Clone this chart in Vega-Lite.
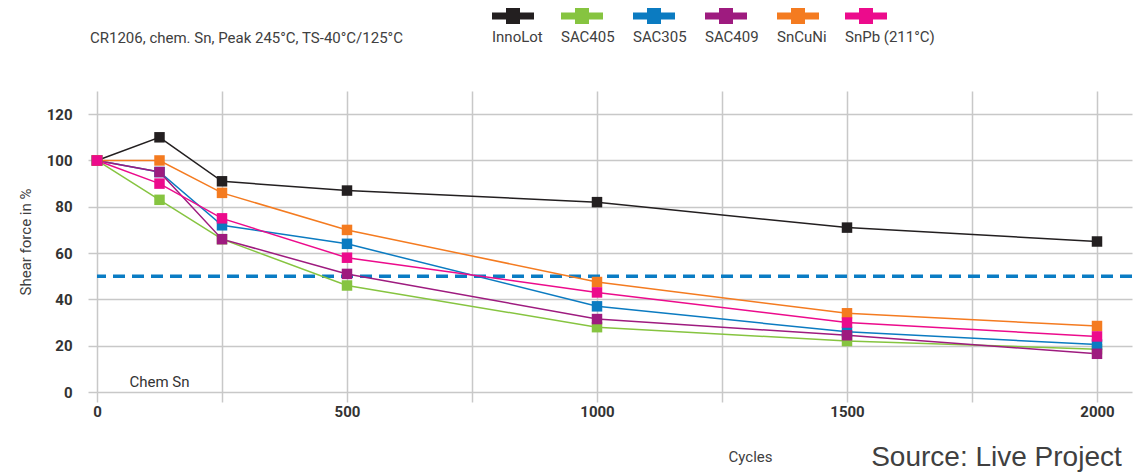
{
  "$schema": "https://vega.github.io/schema/vega-lite/v6.json",
  "width": 1035,
  "height": 301,
  "autosize": {"type": "none"},
  "padding": {"left": 97, "top": 91, "right": 5, "bottom": 83},
  "background": "white",
  "title": {
    "text": "Source: Live Project",
    "orient": "bottom",
    "anchor": "end",
    "font": "Liberation Sans, Arial, sans-serif",
    "fontSize": 28,
    "fontWeight": "normal",
    "color": "#404040",
    "offset": -20,
    "dx": -12
  },
  "config": {
    "view": {"stroke": null},
    "font": "Roboto, sans-serif"
  },
  "layer": [
    {
      "data": {"values": [{"value": 50}]},
      "mark": {"type": "rule", "color": "#0a7cc4", "strokeWidth": 3.5, "strokeDash": [12, 7]},
      "encoding": {
        "y": {"field": "value", "type": "quantitative", "title": "Shear force in %"}
      }
    },
    {
      "data": {"values": [
        {"alloy": "InnoLot", "cycles": 0, "value": 100},
        {"alloy": "InnoLot", "cycles": 125, "value": 110},
        {"alloy": "InnoLot", "cycles": 250, "value": 91},
        {"alloy": "InnoLot", "cycles": 500, "value": 87},
        {"alloy": "InnoLot", "cycles": 1000, "value": 82},
        {"alloy": "InnoLot", "cycles": 1500, "value": 71},
        {"alloy": "InnoLot", "cycles": 2000, "value": 65},
        {"alloy": "SAC405", "cycles": 0, "value": 100},
        {"alloy": "SAC405", "cycles": 125, "value": 83},
        {"alloy": "SAC405", "cycles": 250, "value": 66},
        {"alloy": "SAC405", "cycles": 500, "value": 46},
        {"alloy": "SAC405", "cycles": 1000, "value": 28},
        {"alloy": "SAC405", "cycles": 1500, "value": 22},
        {"alloy": "SAC405", "cycles": 2000, "value": 18.5},
        {"alloy": "SAC305", "cycles": 0, "value": 100},
        {"alloy": "SAC305", "cycles": 125, "value": 95},
        {"alloy": "SAC305", "cycles": 250, "value": 72},
        {"alloy": "SAC305", "cycles": 500, "value": 64},
        {"alloy": "SAC305", "cycles": 1000, "value": 37},
        {"alloy": "SAC305", "cycles": 1500, "value": 26},
        {"alloy": "SAC305", "cycles": 2000, "value": 20.5},
        {"alloy": "SAC409", "cycles": 0, "value": 100},
        {"alloy": "SAC409", "cycles": 125, "value": 95},
        {"alloy": "SAC409", "cycles": 250, "value": 66},
        {"alloy": "SAC409", "cycles": 500, "value": 51},
        {"alloy": "SAC409", "cycles": 1000, "value": 31.5},
        {"alloy": "SAC409", "cycles": 1500, "value": 24.5},
        {"alloy": "SAC409", "cycles": 2000, "value": 16.5},
        {"alloy": "SnCuNi", "cycles": 0, "value": 100},
        {"alloy": "SnCuNi", "cycles": 125, "value": 100},
        {"alloy": "SnCuNi", "cycles": 250, "value": 86},
        {"alloy": "SnCuNi", "cycles": 500, "value": 70},
        {"alloy": "SnCuNi", "cycles": 1000, "value": 47.5},
        {"alloy": "SnCuNi", "cycles": 1500, "value": 34},
        {"alloy": "SnCuNi", "cycles": 2000, "value": 28.5},
        {"alloy": "SnPb (211°C)", "cycles": 0, "value": 100},
        {"alloy": "SnPb (211°C)", "cycles": 125, "value": 90},
        {"alloy": "SnPb (211°C)", "cycles": 250, "value": 75},
        {"alloy": "SnPb (211°C)", "cycles": 500, "value": 58},
        {"alloy": "SnPb (211°C)", "cycles": 1000, "value": 43},
        {"alloy": "SnPb (211°C)", "cycles": 1500, "value": 30},
        {"alloy": "SnPb (211°C)", "cycles": 2000, "value": 24}
      ]},
      "layer": [
        {
          "mark": {"type": "line", "strokeWidth": 1.5},
          "encoding": {
            "x": {
              "field": "cycles", "type": "quantitative", "title": "Cycles",
              "scale": {"domain": [0, 2070], "nice": false},
              "axis": {
                "values": [0, 250, 500, 750, 1000, 1250, 1500, 1750, 2000],
                "labelExpr": "datum.value % 500 === 0 ? datum.label : ''",
                "format": "d",
                "labelFlush": false,
                "domain": false,
                "grid": true, "gridColor": "#c8c8c8", "gridWidth": 1.5,
                "ticks": true, "tickColor": "#c8c8c8", "tickWidth": 1.5, "tickSize": 10,
                "labelFontWeight": "bold", "labelFontSize": 15, "labelColor": "#333333",
                "labelPadding": 2,
                "titleFontWeight": "normal", "titleFontSize": 15, "titleColor": "#404040",
                "titleX": 653, "titleY": 64, "titleBaseline": "middle", "titleAlign": "center"
              }
            },
            "y": {
              "field": "value", "type": "quantitative", "title": "Shear force in %",
              "scale": {"domain": [0, 130], "nice": false},
              "axis": {
                "values": [0, 10, 20, 30, 40, 50, 60, 70, 80, 90, 100, 110, 120, 130],
                "labelExpr": "datum.value % 20 === 0 && datum.value <= 120 ? datum.label : ''",
                "labelFlush": false,
                "domain": false,
                "grid": true, "gridColor": "#c8c8c8", "gridWidth": 1.5,
                "ticks": true, "tickColor": "#c8c8c8", "tickWidth": 1.5, "tickSize": 9,
                "labelFontWeight": "bold", "labelFontSize": 15, "labelColor": "#333333",
                "labelPadding": 16,
                "titleFontWeight": "normal", "titleFontSize": 15, "titleColor": "#404040",
                "titlePadding": 13
              }
            },
            "color": {
              "field": "alloy", "type": "nominal",
              "scale": {
                "domain": ["InnoLot", "SAC405", "SAC305", "SAC409", "SnCuNi", "SnPb (211°C)"],
                "range": ["#231f20", "#86c440", "#0b7bc1", "#9e1b7f", "#f47b20", "#ec0b8c"]
              },
              "legend": {
                "orient": "none",
                "legendX": -7,
                "legendY": -96,
                "direction": "horizontal",
                "title": "CR1206, chem. Sn, Peak 245°C, TS-40°C/125°C",
                "titleOrient": "left",
                "titleLimit": 2000,
                "titlePadding": 88,
                "titleFontSize": 15,
                "titleFontWeight": "normal",
                "titleColor": "#404040",
                "titleBaseline": "top",
                "padding": 0,
                "symbolType": "M-1,-0.167H-0.333V-0.38H0.333V-0.167H1V0.167H0.333V0.38H-0.333V0.167H-1Z",
                "symbolSize": 1764,
                "symbolStrokeWidth": 0,
                "symbolOpacity": 1,
                "labelOffset": 0,
                "labelFontSize": 15,
                "labelColor": "#404040",
                "columnPadding": 18,
                "encode": {
                  "labels": {"update": {"dx": {"value": -42}, "dy": {"value": 21}}},
                  "title": {"update": {"dy": {"value": 11}}}
                }
              }
            }
          }
        },
        {
          "mark": {"type": "point", "shape": "square", "filled": true, "size": 110, "opacity": 1},
          "encoding": {
            "x": {"field": "cycles", "type": "quantitative", "title": "Cycles"},
            "y": {"field": "value", "type": "quantitative", "title": "Shear force in %"},
            "color": {"field": "alloy", "type": "nominal"}
          }
        }
      ]
    },
    {
      "data": {"values": [{"cycles": 125, "value": 4.5, "label": "Chem Sn"}]},
      "mark": {"type": "text", "fontSize": 15, "color": "#333333", "align": "center", "baseline": "middle"},
      "encoding": {
        "x": {"field": "cycles", "type": "quantitative", "title": "Cycles"},
        "y": {"field": "value", "type": "quantitative", "title": "Shear force in %"},
        "text": {"field": "label"}
      }
    }
  ]
}
